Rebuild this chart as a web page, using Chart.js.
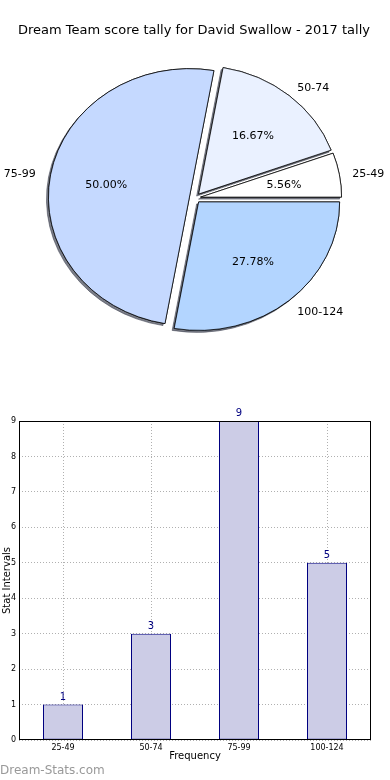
<!DOCTYPE html>
<html>
<head>
<meta charset="utf-8">
<script src="https://cdn.jsdelivr.net/npm/chart.js@4.4.1/dist/chart.umd.min.js"></script>
<style>
    body { margin: 0; background: #fff; }
    #wrap { position: relative; width: 390px; height: 780px; overflow: hidden; }
    #pieCanvas { position: absolute; left: 0; top: 0; }
    #barCanvas { position: absolute; left: 0; top: 400px; }
    #mark { position: absolute; left: 0; top: 763px; font: 12px "DejaVu Sans", sans-serif; color: #999; }
</style>
</head>
<body>
<div id="wrap">
    <canvas id="pieCanvas" width="390" height="396"></canvas>
    <canvas id="barCanvas" width="390" height="380"></canvas>
    <div id="mark">Dream-Stats.com</div>
</div>
<script>
    var chartTitle = "Dream Team score tally for David Swallow - 2017 tally";
    var categories = ["25-49", "50-74", "75-99", "100-124"];
    var counts = [1, 3, 9, 5];
    var sliceColors = ["#ffffff", "#eaf1ff", "#c5d9ff", "#b3d5ff"];
    var yTicks = [0, 1, 2, 3, 4, 5, 6, 7, 8, 9];

    var EXPLODE = 0.04;   // fraction of the radius, like matplotlib explode
    var SQUASH = 0.911;   // the pie is an ellipse in the picture

    // matplotlib goes counter-clockwise from 3 o'clock, chart.js clockwise,
    // so feed the pie reversed
    var pieLabels = categories.slice().reverse();
    var pieValues = counts.slice().reverse();
    var pieColors = sliceColors.slice().reverse();

    function drawExploded(ctx, arc) {
        var mid = (arc.startAngle + arc.endAngle) / 2;
        var d = EXPLODE * arc.outerRadius;
        ctx.save();
        ctx.translate(Math.cos(mid) * d, Math.sin(mid) * d);
        arc.draw(ctx);
        ctx.restore();
    }

    var ellipsePie = {
        id: 'ellipsePie',
        beforeDatasetDraw: function (chart, args) {
            var ctx = chart.ctx;
            var arcs = args.meta.data;
            var cx = arcs[0].x, cy = arcs[0].y;
            ctx.save();
            ctx.translate(cx, cy);
            ctx.scale(1, SQUASH);
            ctx.translate(-cx, -cy);
            // shadows first, then the wedges on top
            ctx.shadowColor = 'rgba(50,55,70,0.65)';
            ctx.shadowOffsetX = -2;
            ctx.shadowOffsetY = 2;
            ctx.shadowBlur = 0;
            arcs.forEach(function (a) { drawExploded(ctx, a); });
            ctx.shadowColor = 'rgba(0,0,0,0)';
            arcs.forEach(function (a) { drawExploded(ctx, a); });
            ctx.restore();
            return false;
        },
        afterDraw: function (chart) {
            var ctx = chart.ctx;
            var meta = chart.getDatasetMeta(0);
            var total = pieValues.reduce(function (s, v) { return s + v; }, 0);
            ctx.save();
            ctx.fillStyle = '#000';
            ctx.font = '13px "DejaVu Sans"';
            ctx.textAlign = 'center';
            ctx.textBaseline = 'middle';
            ctx.fillText(chartTitle, 194, 31);

            ctx.font = '11px "DejaVu Sans"';
            meta.data.forEach(function (arc, i) {
                var mid = (arc.startAngle + arc.endAngle) / 2;
                var r = arc.outerRadius;
                var d = EXPLODE * r;
                var c = Math.cos(mid), s = Math.sin(mid);

                var lx = arc.x + c * (1.1 * r + d) - 1;
                var ly = arc.y + s * (1.1 * r + d) * SQUASH + 2;
                ctx.textAlign = c >= 0 ? 'left' : 'right';
                ctx.fillText(pieLabels[i], lx, ly);

                var px = arc.x + c * (0.6 * r + d);
                var py = arc.y + s * (0.6 * r + d) * SQUASH + 1;
                ctx.textAlign = 'center';
                ctx.fillText((pieValues[i] / total * 100).toFixed(2) + '%', px, py);
            });
            ctx.restore();
        }
    };

    new Chart(document.getElementById('pieCanvas'), {
        type: 'pie',
        data: {
            labels: pieLabels,
            datasets: [{
                data: pieValues,
                backgroundColor: pieColors,
                borderColor: '#000',
                borderWidth: 0.8
            }]
        },
        options: {
            responsive: false,
            animation: false,
            rotation: 90,
            radius: 141,
            layout: { padding: 0 },
            plugins: { legend: { display: false }, tooltip: { enabled: false } }
        },
        plugins: [ellipsePie]
    });

    var barExtras = {
        id: 'barExtras',
        afterDatasetsDraw: function (chart) {
            var ctx = chart.ctx;
            var meta = chart.getDatasetMeta(0);
            ctx.save();
            ctx.fillStyle = '#000080';
            ctx.font = '10px "DejaVu Sans"';
            ctx.textAlign = 'center';
            ctx.textBaseline = 'alphabetic';
            meta.data.forEach(function (bar, i) {
                ctx.fillText(String(counts[i]), bar.x, bar.y - 5);
            });
            ctx.restore();
        },
        afterDraw: function (chart) {
            var a = chart.chartArea;
            var ctx = chart.ctx;
            ctx.save();
            ctx.strokeStyle = '#000';
            ctx.lineWidth = 1;
            ctx.strokeRect(Math.round(a.left) + 0.5, Math.round(a.top) + 0.5,
                Math.round(a.right - a.left) - 1, Math.round(a.bottom - a.top) - 1);
            ctx.restore();
        }
    };

    new Chart(document.getElementById('barCanvas'), {
        type: 'bar',
        data: {
            labels: categories,
            datasets: [{
                data: counts,
                backgroundColor: '#ccccE6',
                borderColor: '#000080',
                borderWidth: 1,
                borderSkipped: false,
                barPercentage: 40 / 88,
                categoryPercentage: 1,
                clip: false
            }]
        },
        options: {
            responsive: false,
            animation: false,
            layout: { padding: { left: 0, right: 19, top: 21, bottom: 14 } },
            plugins: { legend: { display: false }, tooltip: { enabled: false } },
            scales: {
                x: {
                    z: 1,
                    afterFit: function (s) { s.height = 26; },
                    grid: { offset: false, color: '#b0b0b0', drawTicks: false },
                    border: { display: false, dash: [1, 2] },
                    ticks: { color: '#000', padding: 3, font: { family: 'DejaVu Sans', size: 8 } },
                    title: { display: true, text: 'Frequency', color: '#000', font: { family: 'DejaVu Sans', size: 10 } }
                },
                y: {
                    z: 1,
                    min: yTicks[0],
                    max: yTicks[yTicks.length - 1],
                    afterFit: function (s) { s.width = 19; },
                    afterBuildTicks: function (s) { s.ticks = yTicks.map(function (v) { return { value: v }; }); },
                    grid: { color: '#b0b0b0', drawTicks: false },
                    border: { display: false, dash: [1, 2] },
                    ticks: { color: '#000', padding: 3, font: { family: 'DejaVu Sans', size: 8 } },
                    title: { display: true, text: 'Stat Intervals', color: '#000', font: { family: 'DejaVu Sans', size: 10, lineHeight: 0.6 } }
                }
            }
        },
        plugins: [barExtras]
    });
</script>
</body>
</html>
